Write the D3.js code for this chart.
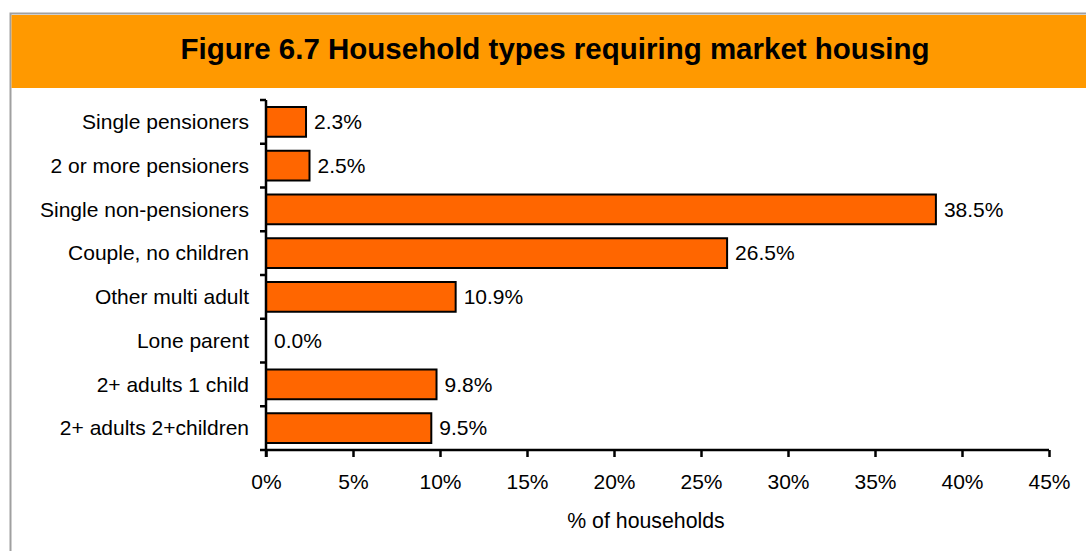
<!DOCTYPE html>
<html>
<head>
<meta charset="utf-8">
<script src="https://cdn.jsdelivr.net/npm/d3@7"></script>
<style>
  html, body { margin: 0; padding: 0; background: #fff; }
  svg { display: block; font-family: "Liberation Sans", Arial, sans-serif; }
</style>
</head>
<body>
<div id="chart"></div>
<script>
// Données du graphique
const categories = [
    'Single pensioners',
    '2 or more pensioners',
    'Single non-pensioners',
    'Couple, no children',
    'Other multi adult',
    'Lone parent',
    '2+ adults 1 child',
    '2+ adults 2+children'
];
const shares = [2.3, 2.5, 38.5, 26.5, 10.9, 0.0, 9.8, 9.5];
const xTicks = [0, 5, 10, 15, 20, 25, 30, 35, 40, 45];

const W = 1086, H = 551;
const margin = { left: 266, right: 37, top: 100, bottom: 101 };
const FS = '21px';

const svg = d3.select('#chart').append('svg')
    .attr('width', W)
    .attr('height', H);

// Cadre gris + bandeau orange
svg.append('rect')
    .attr('x', 10.5).attr('y', 13.5)
    .attr('width', W + 10).attr('height', H)
    .attr('fill', '#fff')
    .attr('stroke', '#a0a0a0')
    .attr('stroke-width', 2);

svg.append('rect')
    .attr('x', 11.5).attr('y', 15)
    .attr('width', W).attr('height', 73)
    .attr('fill', '#FF9900');

svg.append('text')
    .attr('x', 555).attr('y', 59)
    .attr('text-anchor', 'middle')
    .attr('font-size', '29.5px')
    .attr('font-weight', 'bold')
    .attr('fill', '#000')
    .text('Figure 6.7 Household types requiring market housing');

// Échelles
const x = d3.scaleLinear()
    .domain([0, 45])
    .range([margin.left, W - margin.right]);

const y = d3.scaleBand()
    .domain(categories)
    .range([margin.top, H - margin.bottom])
    .paddingInner(0.32)
    .paddingOuter(0.16);

const yBottom = H - margin.bottom;
const step = (yBottom - margin.top) / categories.length;

// Barres
svg.append('g')
    .selectAll('rect')
    .data(categories)
    .join('rect')
    .attr('x', x(0))
    .attr('y', d => y(d))
    .attr('width', (d, i) => x(shares[i]) - x(0))
    .attr('height', y.bandwidth())
    .attr('fill', '#FF6600')
    .attr('stroke', '#000')
    .attr('stroke-width', 2)
    .attr('display', (d, i) => shares[i] > 0 ? null : 'none');

// Étiquettes de valeur
svg.append('g')
    .selectAll('text')
    .data(categories)
    .join('text')
    .attr('x', (d, i) => x(shares[i]) + 8)
    .attr('y', d => y(d) + y.bandwidth() / 2)
    .attr('dy', '0.35em')
    .attr('font-size', FS)
    .attr('fill', '#000')
    .text((d, i) => shares[i].toFixed(1) + '%');

// Axe X
const xAxis = d3.axisBottom(x)
    .tickValues(xTicks)
    .tickFormat(d => d + '%')
    .tickSize(7)
    .tickSizeOuter(7)
    .tickPadding(17);

const gx = svg.append('g')
    .attr('transform', `translate(0,${yBottom})`)
    .call(xAxis);
gx.select('.domain').attr('stroke', '#000').attr('stroke-width', 2.5)
    .attr('d', `M${x(0)},0H${x(45)}`);
gx.selectAll('.tick line').attr('stroke', '#000').attr('stroke-width', 2.5);
gx.selectAll('.tick text')
    .attr('font-size', FS)
    .attr('font-family', '"Liberation Sans", Arial, sans-serif')
    .attr('fill', '#000');

// Axe Y : ligne + graduations aux limites des catégories
const gy = svg.append('g');
gy.append('line')
    .attr('x1', x(0)).attr('x2', x(0))
    .attr('y1', margin.top).attr('y2', yBottom + 7)
    .attr('stroke', '#000').attr('stroke-width', 2.5);
gy.selectAll('line.tk')
    .data(d3.range(categories.length + 1))
    .join('line')
    .attr('class', 'tk')
    .attr('x1', x(0) - 6).attr('x2', x(0))
    .attr('y1', i => margin.top + i * step)
    .attr('y2', i => margin.top + i * step)
    .attr('stroke', '#000').attr('stroke-width', 2.5);

// Libellés des catégories
gy.selectAll('text')
    .data(categories)
    .join('text')
    .attr('x', x(0) - 17)
    .attr('y', d => y(d) + y.bandwidth() / 2)
    .attr('dy', '0.35em')
    .attr('text-anchor', 'end')
    .attr('font-size', FS)
    .attr('fill', '#000')
    .text(d => d);

// Titre de l'axe X
svg.append('text')
    .attr('x', 646)
    .attr('y', 528)
    .attr('text-anchor', 'middle')
    .attr('font-size', '21.3px')
    .attr('fill', '#000')
    .text('% of households');
</script>
</body>
</html>
